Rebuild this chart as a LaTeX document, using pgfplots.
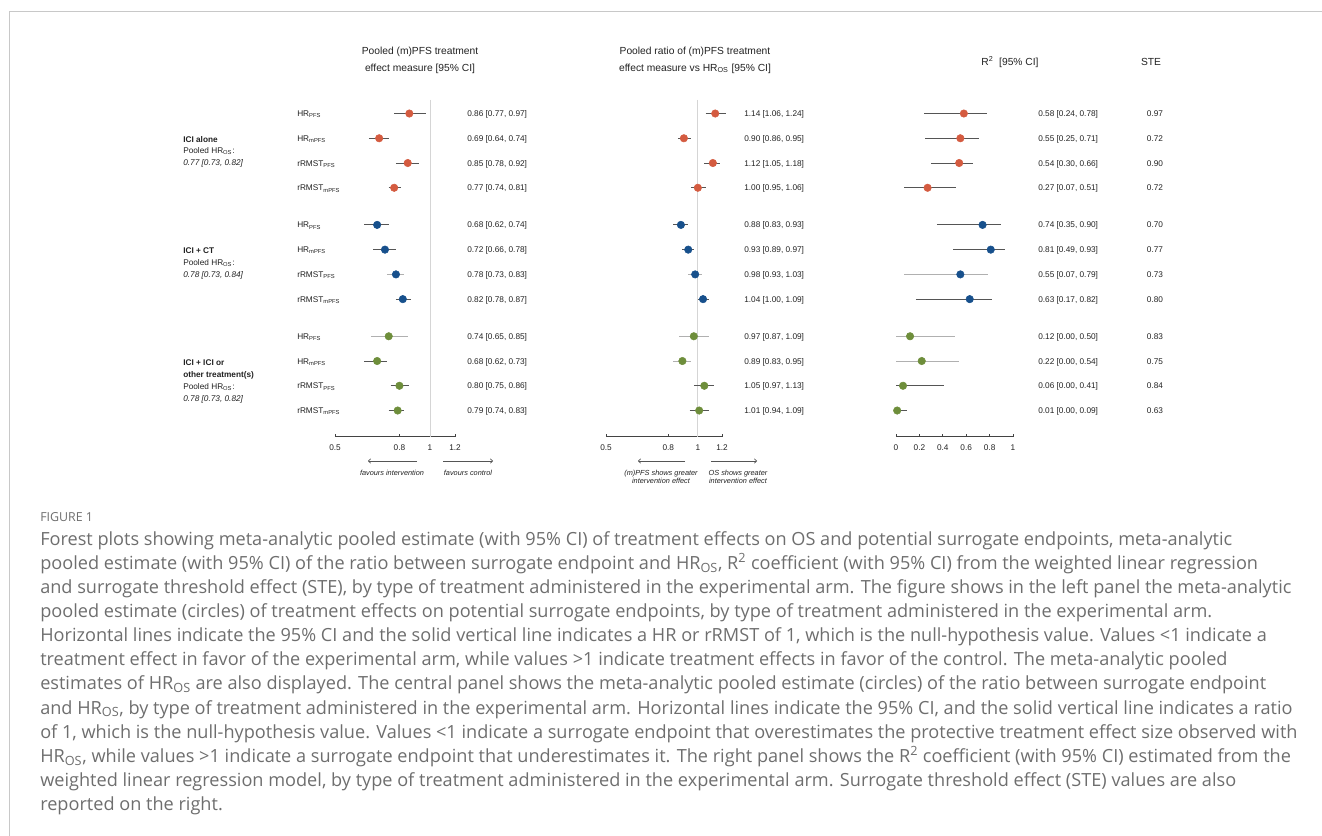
\documentclass[border=0pt]{standalone}
\usepackage{fontspec}
\setmainfont{Liberation Sans}
\newfontfamily\capfont{Open Sans}
\usepackage{pgfplots}
\pgfplotsset{compat=1.18}
\usetikzlibrary{arrows.meta}
\definecolor{cred}{HTML}{D45B40}
\definecolor{cblue}{HTML}{17508C}
\definecolor{cgreen}{HTML}{6E8E3B}
\definecolor{cidark}{HTML}{555555}
\definecolor{cilight}{HTML}{B0B0B0}
\definecolor{txt}{HTML}{222222}
\definecolor{captxt}{HTML}{6E6E6E}
\definecolor{refline}{HTML}{D5D5D5}
\definecolor{frame}{HTML}{C8C8C8}
\newcommand\fs{\fontsize{6.2}{7.4}\selectfont}
\newcommand\ft{\fontsize{7.7}{9}\selectfont}
\newcommand\fa{\fontsize{5.5}{6.5}\selectfont}
\newcommand\ci[4]{\addplot[color=#4, line width=0.75pt, forget plot] coordinates {(#2,-#1) (#3,-#1)};}
\newcommand\pt[3]{\addplot[only marks, mark=*, mark size=2.8pt, color=#3, forget plot] coordinates {(#2,-#1)};}
\pgfplotsset{forest/.style={scale only axis, height=252.45pt, ymin=-13.05, ymax=0.55,
  axis y line=none, axis x line*=bottom,
  x axis line style={-, color=txt!85, line width=0.6pt},
  xtick align=inside, major tick length=2.25pt,
  tick style={color=txt!85, line width=0.6pt},
  ticklabel style={font=\fs, text=txt},
  xticklabel style={yshift=-2.4pt},
  /pgf/number format/assume math mode=true,
  clip=false, anchor=south west}}
\begin{document}
\begin{tikzpicture}
% ---------- panel 1
\begin{axis}[forest, at={(251.25pt,-327.375pt)}, width=90pt, xmode=log, xmin=0.5, xmax=1.2,
  xtick={0.5,0.8,1,1.2}, xticklabels={0.5,0.8,1,1.2}]
\addplot[color=refline, line width=0.7pt, forget plot] coordinates {(1,0.55) (1,-13.05)};
\ci{0}{0.77}{0.97}{cidark}\pt{0}{0.86}{cred}
\ci{1}{0.64}{0.74}{cidark}\pt{1}{0.69}{cred}
\ci{2}{0.78}{0.92}{cidark}\pt{2}{0.85}{cred}
\ci{3}{0.74}{0.81}{cidark}\pt{3}{0.77}{cred}
\ci{4.5}{0.62}{0.74}{cidark}\pt{4.5}{0.68}{cblue}
\ci{5.5}{0.66}{0.78}{cidark}\pt{5.5}{0.72}{cblue}
\ci{6.5}{0.73}{0.83}{cilight}\pt{6.5}{0.78}{cblue}
\ci{7.5}{0.78}{0.87}{cidark}\pt{7.5}{0.82}{cblue}
\ci{9}{0.65}{0.85}{cilight}\pt{9}{0.74}{cgreen}
\ci{10}{0.62}{0.73}{cidark}\pt{10}{0.68}{cgreen}
\ci{11}{0.75}{0.86}{cidark}\pt{11}{0.80}{cgreen}
\ci{12}{0.74}{0.83}{cidark}\pt{12}{0.79}{cgreen}
\end{axis}
% ---------- panel 2
\begin{axis}[forest, at={(454.5pt,-327.375pt)}, width=87pt, xmode=log, xmin=0.5, xmax=1.2,
  xtick={0.5,0.8,1,1.2}, xticklabels={0.5,0.8,1,1.2}]
\addplot[color=refline, line width=0.7pt, forget plot] coordinates {(1,0.55) (1,-13.05)};
\ci{0}{1.06}{1.24}{cidark}\pt{0}{1.14}{cred}
\ci{1}{0.86}{0.95}{cidark}\pt{1}{0.90}{cred}
\ci{2}{1.05}{1.18}{cidark}\pt{2}{1.12}{cred}
\ci{3}{0.95}{1.06}{cidark}\pt{3}{1.00}{cred}
\ci{4.5}{0.83}{0.93}{cidark}\pt{4.5}{0.88}{cblue}
\ci{5.5}{0.89}{0.97}{cidark}\pt{5.5}{0.93}{cblue}
\ci{6.5}{0.93}{1.03}{cilight}\pt{6.5}{0.98}{cblue}
\ci{7.5}{1.00}{1.09}{cidark}\pt{7.5}{1.04}{cblue}
\ci{9}{0.87}{1.09}{cilight}\pt{9}{0.97}{cgreen}
\ci{10}{0.83}{0.95}{cilight}\pt{10}{0.89}{cgreen}
\ci{11}{0.97}{1.13}{cidark}\pt{11}{1.05}{cgreen}
\ci{12}{0.94}{1.09}{cidark}\pt{12}{1.01}{cgreen}
\end{axis}
% ---------- panel 3
\begin{axis}[forest, at={(672pt,-327.375pt)}, width=87.75pt, xmin=0, xmax=1,
  xtick={0,0.2,0.4,0.6,0.8,1}, xticklabels={0,0.2,0.4,0.6,0.8,1}]
\ci{0}{0.24}{0.78}{cidark}\pt{0}{0.58}{cred}
\ci{1}{0.25}{0.71}{cidark}\pt{1}{0.55}{cred}
\ci{2}{0.30}{0.66}{cidark}\pt{2}{0.54}{cred}
\ci{3}{0.07}{0.51}{cidark}\pt{3}{0.27}{cred}
\ci{4.5}{0.35}{0.90}{cidark}\pt{4.5}{0.74}{cblue}
\ci{5.5}{0.49}{0.93}{cidark}\pt{5.5}{0.81}{cblue}
\ci{6.5}{0.07}{0.79}{cilight}\pt{6.5}{0.55}{cblue}
\ci{7.5}{0.17}{0.82}{cidark}\pt{7.5}{0.63}{cblue}
\ci{9}{0.00}{0.50}{cilight}\pt{9}{0.12}{cgreen}
\ci{10}{0.00}{0.54}{cilight}\pt{10}{0.22}{cgreen}
\ci{11}{0.00}{0.41}{cidark}\pt{11}{0.06}{cgreen}
\ci{12}{0.00}{0.09}{cidark}\pt{12}{0.01}{cgreen}
\end{axis}
\begin{scope}[x=0.75pt, y=-0.75pt, every node/.style={inner sep=0pt, text=txt, font=\fs}]
\path[use as bounding box] (0,0) rectangle (1322,836);
\draw[frame, line width=0.75pt] (9,836) -- (9,11.5) -- (1322,11.5);
% titles
\node[anchor=base, font=\ft] at (420,54.5) {Pooled (m)PFS treatment};
\node[anchor=base, font=\ft] at (420,71.5) {effect measure [95\% CI]};
\node[anchor=base, font=\ft] at (695,54.5) {Pooled ratio of (m)PFS treatment};
\node[anchor=base, font=\ft] at (695,71.5) {effect measure vs HR\textsubscript{OS} [95\% CI]};
\node[anchor=base, font=\ft] at (1010,65.5) {R\textsuperscript{2}\ \ [95\% CI]};
\node[anchor=base, font=\ft] at (1151,65.5) {STE};
% group labels
\node[anchor=base west, font=\fs\bfseries] at (183,142) {ICI alone};
\node[anchor=base west] at (183,153.5) {Pooled HR\textsubscript{OS}:};
\node[anchor=base west, font=\fs\itshape] at (183,165.5) {0.77 [0.73, 0.82]};
\node[anchor=base west, font=\fs\bfseries] at (183,253) {ICI + CT};
\node[anchor=base west] at (183,265) {Pooled HR\textsubscript{OS}:};
\node[anchor=base west, font=\fs\itshape] at (183,277) {0.78 [0.73, 0.84]};
\node[anchor=base west, font=\fs\bfseries] at (183,365) {ICI + ICI or};
\node[anchor=base west, font=\fs\bfseries] at (183,377) {other treatment(s)};
\node[anchor=base west] at (183,389) {Pooled HR\textsubscript{OS}:};
\node[anchor=base west, font=\fs\itshape] at (183,401) {0.78 [0.73, 0.82]};
% row texts
\foreach \yy/\lab/\va/\vb/\vc/\ste in {
 116.5/HR\textsubscript{PFS}/{0.86 [0.77, 0.97]}/{1.14 [1.06, 1.24]}/{0.58 [0.24, 0.78]}/0.97,
 141.25/HR\textsubscript{mPFS}/{0.69 [0.64, 0.74]}/{0.90 [0.86, 0.95]}/{0.55 [0.25, 0.71]}/0.72,
 166/rRMST\textsubscript{PFS}/{0.85 [0.78, 0.92]}/{1.12 [1.05, 1.18]}/{0.54 [0.30, 0.66]}/0.90,
 190.75/rRMST\textsubscript{mPFS}/{0.77 [0.74, 0.81]}/{1.00 [0.95, 1.06]}/{0.27 [0.07, 0.51]}/0.72,
 227.9/HR\textsubscript{PFS}/{0.68 [0.62, 0.74]}/{0.88 [0.83, 0.93]}/{0.74 [0.35, 0.90]}/0.70,
 252.6/HR\textsubscript{mPFS}/{0.72 [0.66, 0.78]}/{0.93 [0.89, 0.97]}/{0.81 [0.49, 0.93]}/0.77,
 277.4/rRMST\textsubscript{PFS}/{0.78 [0.73, 0.83]}/{0.98 [0.93, 1.03]}/{0.55 [0.07, 0.79]}/0.73,
 302.1/rRMST\textsubscript{mPFS}/{0.82 [0.78, 0.87]}/{1.04 [1.00, 1.09]}/{0.63 [0.17, 0.82]}/0.80,
 339.25/HR\textsubscript{PFS}/{0.74 [0.65, 0.85]}/{0.97 [0.87, 1.09]}/{0.12 [0.00, 0.50]}/0.83,
 364/HR\textsubscript{mPFS}/{0.68 [0.62, 0.73]}/{0.89 [0.83, 0.95]}/{0.22 [0.00, 0.54]}/0.75,
 388.75/rRMST\textsubscript{PFS}/{0.80 [0.75, 0.86]}/{1.05 [0.97, 1.13]}/{0.06 [0.00, 0.41]}/0.84,
 413.5/rRMST\textsubscript{mPFS}/{0.79 [0.74, 0.83]}/{1.01 [0.94, 1.09]}/{0.01 [0.00, 0.09]}/0.63}{
  \node[anchor=base west] at (297,\yy) {\lab};
  \node[anchor=base west] at (467,\yy) {\va};
  \node[anchor=base west] at (744,\yy) {\vb};
  \node[anchor=base west] at (1038,\yy) {\vc};
  \node[anchor=base] at (1155,\yy) {\ste};
}
% arrows
\draw[-{To[length=2.2pt,width=3.6pt]}, cidark, line width=0.5pt] (417,461) -- (368,461);
\draw[-{To[length=2.2pt,width=3.6pt]}, cidark, line width=0.5pt] (443,461) -- (493,461);
\draw[-{To[length=2.2pt,width=3.6pt]}, cidark, line width=0.5pt] (685,461) -- (638,461);
\draw[-{To[length=2.2pt,width=3.6pt]}, cidark, line width=0.5pt] (711,461) -- (757,461);
\node[anchor=base, font=\fa\itshape] at (392,475) {favours intervention};
\node[anchor=base, font=\fa\itshape] at (468,475) {favours control};
\node[anchor=base, font=\fa\itshape] at (661,475) {(m)PFS shows greater};
\node[anchor=base, font=\fa\itshape] at (661,483) {intervention effect};
\node[anchor=base, font=\fa\itshape] at (738,475) {OS shows greater};
\node[anchor=base, font=\fa\itshape] at (738,483) {intervention effect};
% caption
\node[anchor=base west, text=captxt, font=\capfont\fontsize{9.3}{10}\selectfont] at (40,521.5) {FIGURE 1};
\foreach \k/\line in {
 0/{Forest plots showing meta-analytic pooled estimate (with 95\% CI) of treatment effects on OS and potential surrogate endpoints, meta-analytic},
 1/{pooled estimate (with 95\% CI) of the ratio between surrogate endpoint and HR\textsubscript{OS}, R\textsuperscript{2} coefficient (with 95\% CI) from the weighted linear regression},
 2/{and surrogate threshold effect (STE), by type of treatment administered in the experimental arm. The figure shows in the left panel the meta-analytic},
 3/{pooled estimate (circles) of treatment effects on potential surrogate endpoints, by type of treatment administered in the experimental arm.},
 4/{Horizontal lines indicate the 95\% CI and the solid vertical line indicates a HR or rRMST of 1, which is the null-hypothesis value. Values <1 indicate a},
 5/{treatment effect in favor of the experimental arm, while values >1 indicate treatment effects in favor of the control. The meta-analytic pooled},
 6/{estimates of HR\textsubscript{OS} are also displayed. The central panel shows the meta-analytic pooled estimate (circles) of the ratio between surrogate endpoint},
 7/{and HR\textsubscript{OS}, by type of treatment administered in the experimental arm. Horizontal lines indicate the 95\% CI, and the solid vertical line indicates a ratio},
 8/{of 1, which is the null-hypothesis value. Values <1 indicate a surrogate endpoint that overestimates the protective treatment effect size observed with},
 9/{HR\textsubscript{OS}, while values >1 indicate a surrogate endpoint that underestimates it. The right panel shows the R\textsuperscript{2} coefficient (with 95\% CI) estimated from the},
 10/{weighted linear regression model, by type of treatment administered in the experimental arm. Surrogate threshold effect (STE) values are also},
 11/{reported on the right.}}{
  \node[anchor=base west, text=captxt, font=\capfont\fontsize{13.6}{18}\selectfont] at (40,{545+24.15*\k}) {\line};
}
\end{scope}
\end{tikzpicture}
\end{document}
